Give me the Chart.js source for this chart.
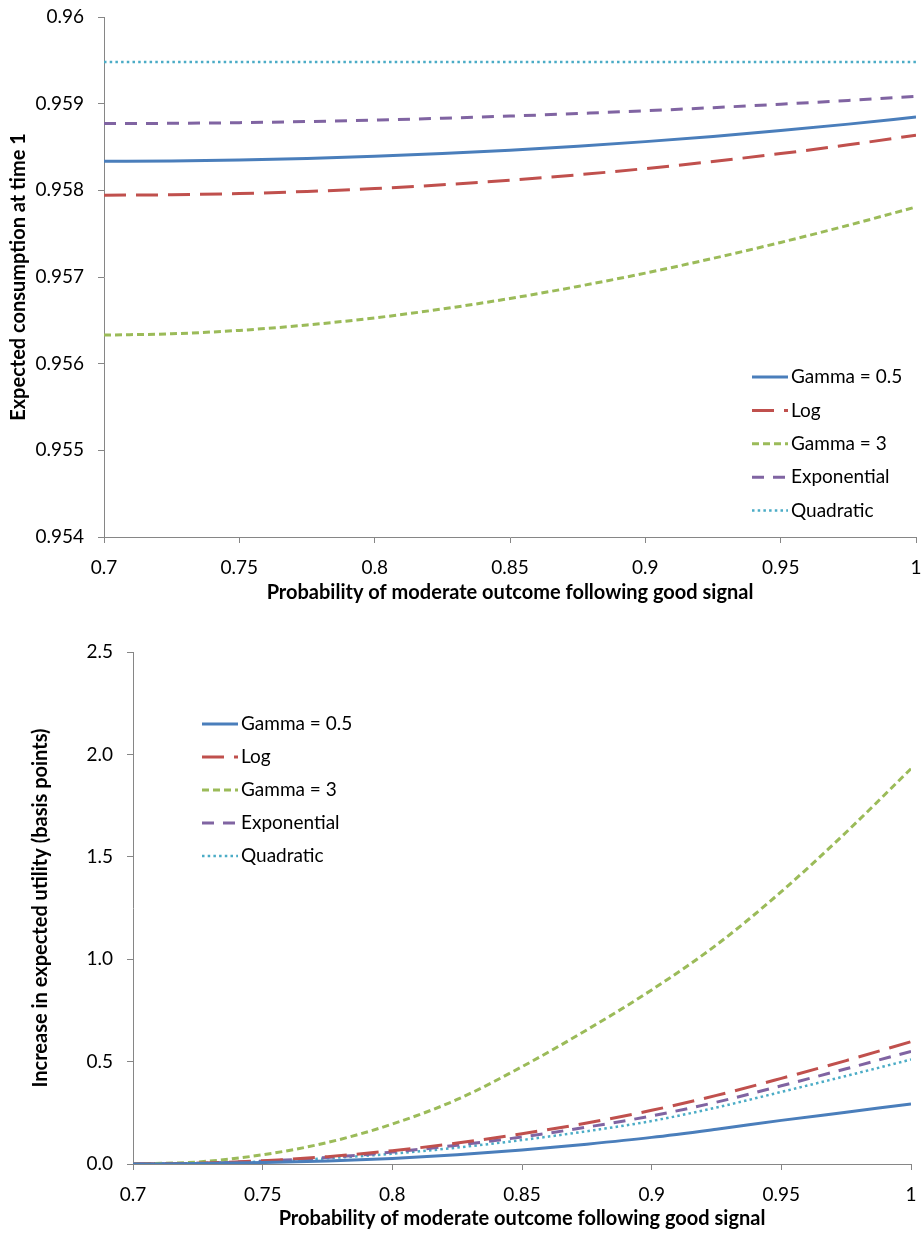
<!DOCTYPE html>
<html>
<head>
<meta charset="utf-8">
<script src="https://cdn.jsdelivr.net/npm/chart.js@4.4.1/dist/chart.umd.min.js"></script>
<style>
  body { margin: 0; background: #fff; }
  canvas { position: absolute; left: 0; }
  #consChart { top: 0; }
  #utilChart { top: 620px; }
</style>
</head>
<body>
<canvas id="consChart" width="923" height="610"></canvas>
<canvas id="utilChart" width="923" height="615"></canvas>
<script>
// x values (probability of moderate outcome following good signal)
const probs = [0.7, 0.725, 0.75, 0.775, 0.8, 0.825, 0.85, 0.875, 0.9, 0.925, 0.95, 0.975, 1.0];
const seriesNames = ['Gamma = 0.5', 'Log', 'Gamma = 3', 'Exponential', 'Quadratic'];

// top chart: expected consumption at time 1
const consGamma05 = [0.958335, 0.958339, 0.958349, 0.958367, 0.958392, 0.958424, 0.958463, 0.958509, 0.958562, 0.958622, 0.958690, 0.958764, 0.958846];
const consLog     = [0.957944, 0.957949, 0.957963, 0.957987, 0.958021, 0.958064, 0.958117, 0.958179, 0.958251, 0.958333, 0.958424, 0.958525, 0.958636];
const consGamma3  = [0.956330, 0.956345, 0.956384, 0.956446, 0.956528, 0.956631, 0.956752, 0.956891, 0.957045, 0.957215, 0.957399, 0.957597, 0.957808];
const consExp     = [0.958770, 0.958773, 0.958781, 0.958794, 0.958811, 0.958832, 0.958857, 0.958886, 0.958918, 0.958954, 0.958994, 0.959037, 0.959084];
const consQuad    = [0.95948, 0.95948, 0.95948, 0.95948, 0.95948, 0.95948, 0.95948, 0.95948, 0.95948, 0.95948, 0.95948, 0.95948, 0.95948];

// bottom chart: increase in expected utility (basis points)
const utilGamma05 = [0, 0.002, 0.007, 0.015, 0.027, 0.045, 0.068, 0.097, 0.13, 0.17, 0.213, 0.253, 0.293];
const utilLog     = [0, 0.004, 0.016, 0.036, 0.065, 0.102, 0.148, 0.2, 0.262, 0.335, 0.418, 0.505, 0.597];
const utilGamma3  = [0, 0.01, 0.045, 0.105, 0.195, 0.315, 0.475, 0.655, 0.85, 1.07, 1.33, 1.62, 1.93];
const utilExp     = [0, 0.004, 0.014, 0.032, 0.058, 0.092, 0.132, 0.18, 0.235, 0.302, 0.382, 0.465, 0.55];
const utilQuad    = [0, 0.003, 0.012, 0.028, 0.05, 0.08, 0.117, 0.16, 0.21, 0.276, 0.352, 0.43, 0.51];

// line styles (Excel 2007 palette)
const colors = ['#4A7EBB', '#C0504D', '#9BBB59', '#8064A2', '#4BACC6'];
const dashes = [[], [22, 10], [7, 4], [12, 9], [2.5, 3.2]];
const widths = [3, 3, 3, 3, 2.5];

const axisGray = '#868686';
const FONT = 'Lato';

// legend drawn inside the plot, Excel style
const lineLegend = {
  id: 'lineLegend',
  afterDraw(chart, args, opts) {
    const ctx = chart.ctx;
    ctx.save();
    chart.data.datasets.forEach((ds, i) => {
      const y = opts.top + i * opts.gap;
      ctx.beginPath();
      ctx.strokeStyle = ds.borderColor;
      ctx.lineWidth = ds.borderWidth;
      ctx.setLineDash(ds.borderDash);
      ctx.moveTo(opts.left, y);
      ctx.lineTo(opts.left + opts.len, y);
      ctx.stroke();
      ctx.setLineDash([]);
      ctx.fillStyle = '#000';
      ctx.font = '19px ' + FONT;
      ctx.textBaseline = 'middle';
      ctx.textAlign = 'left';
      ctx.fillText(ds.label, opts.left + opts.len + 3, y);
    });
    ctx.restore();
  }
};

function makeDatasets(seriesList) {
  return seriesList.map((vals, i) => ({
    label: seriesNames[i],
    data: probs.map((p, j) => ({ x: p, y: vals[j] })),
    borderColor: colors[i],
    backgroundColor: colors[i],
    borderWidth: widths[i],
    borderDash: dashes[i],
    pointRadius: 0,
    fill: false,
    cubicInterpolationMode: 'monotone'
  }));
}

// drop the automatic label-overflow padding so the plot box sits where we want it
function noPad(s) {
  s.paddingLeft = 0; s.paddingRight = 0; s.paddingTop = 0; s.paddingBottom = 0;
}

function makeChart(id, seriesList, cfg) {
  return new Chart(document.getElementById(id), {
    type: 'line',
    data: { datasets: makeDatasets(seriesList) },
    options: {
      responsive: false,
      animation: false,
      events: [],
      layout: { padding: cfg.padding },
      plugins: {
        legend: { display: false },
        tooltip: { enabled: false },
        lineLegend: cfg.legend
      },
      scales: {
        x: {
          type: 'linear',
          min: 0.7, max: 1,
          afterFit: (s) => { s.height = cfg.xHeight; noPad(s); },
          grid: { display: true, drawOnChartArea: false, drawTicks: true, tickLength: 6, color: axisGray },
          border: { color: axisGray, width: 1 },
          ticks: {
            stepSize: 0.05, padding: 13, color: '#000', maxRotation: 0,
            font: { family: FONT, size: 19 },
            callback: (v) => Number(v.toFixed(2)).toString()
          },
          title: {
            display: true, text: 'Probability of moderate outcome following good signal',
            color: '#000', font: { family: FONT, size: 20, weight: 'bold' },
            padding: { top: 0, bottom: cfg.xTitlePad }
          }
        },
        y: {
          min: cfg.yMin, max: cfg.yMax,
          afterFit: (s) => { s.width = cfg.yWidth; noPad(s); },
          grid: { display: true, drawOnChartArea: false, drawTicks: true, tickLength: 6, color: axisGray },
          border: { color: axisGray, width: 1 },
          ticks: {
            stepSize: cfg.yStep, padding: 14, color: '#000',
            font: { family: FONT, size: 19 },
            callback: (v) => cfg.yFmt(v)
          },
          title: {
            display: true, text: cfg.yTitle,
            color: '#000', font: { family: FONT, size: 20, weight: 'bold' },
            padding: { top: cfg.yTitlePad, bottom: 0 }
          }
        }
      }
    },
    plugins: [lineLegend]
  });
}

makeChart('consChart', [consGamma05, consLog, consGamma3, consExp, consQuad], {
  padding: { top: 17, right: 7, left: 0, bottom: 0 },
  xHeight: 73, xTitlePad: 5,
  yWidth: 104, yTitlePad: 7,
  yMin: 0.954, yMax: 0.96, yStep: 0.001,
  yFmt: (v) => Number(v.toFixed(3)).toString(),
  yTitle: 'Expected consumption at time 1',
  legend: { left: 752, len: 36, top: 377, gap: 33.4 }
});

makeChart('utilChart', [utilGamma05, utilLog, utilGamma3, utilExp, utilQuad], {
  padding: { top: 32, right: 12, left: 0, bottom: 0 },
  xHeight: 71, xTitlePad: 4,
  yWidth: 133, yTitlePad: 29,
  yMin: 0, yMax: 2.5, yStep: 0.5,
  yFmt: (v) => v.toFixed(1),
  yTitle: 'Increase in expected utility (basis points)',
  legend: { left: 202, len: 36, top: 104, gap: 33 }
});
</script>
</body>
</html>
